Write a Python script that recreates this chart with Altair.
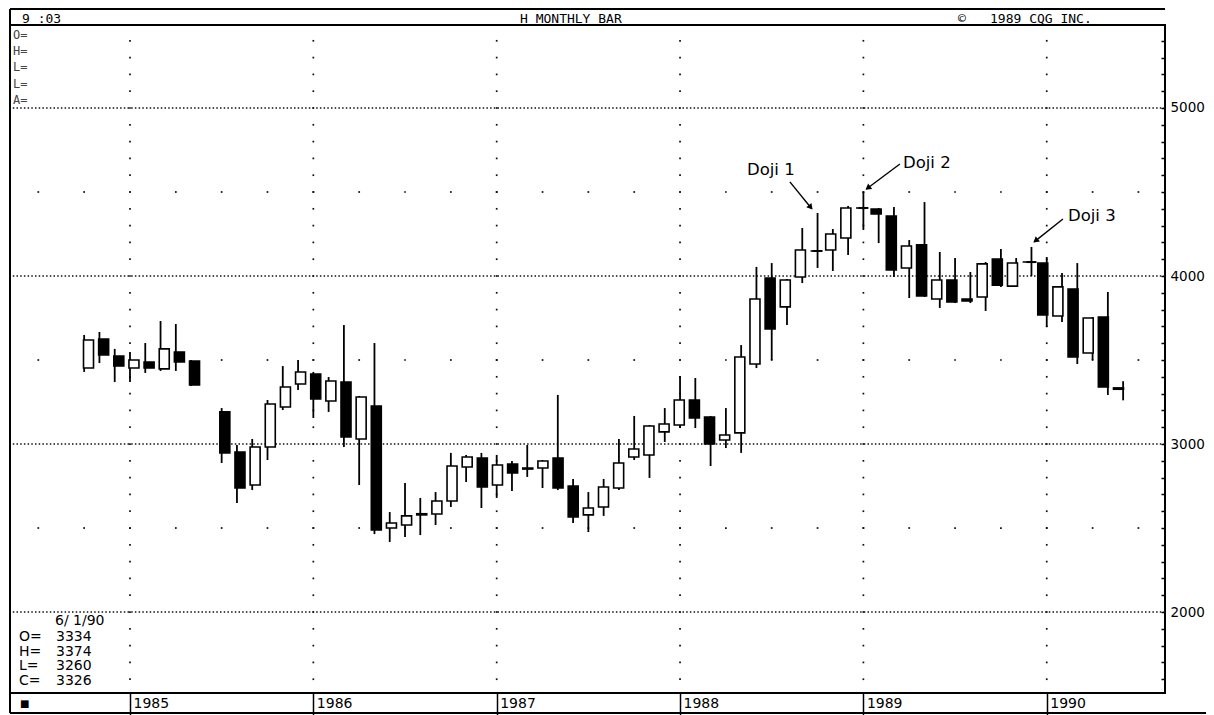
import altair as alt
import pandas as pd

# ---------------- data (monthly candles, month 0 = Jan 1985) ----------------
months = [-3, -2, -1, 0, 1, 2, 3, 4,
          6, 7, 8, 9, 10, 11,
          12, 13, 14, 15, 16, 17, 18, 19, 20, 21, 22, 23,
          24, 25, 26, 27, 28, 29, 30, 31, 32, 33, 34, 35,
          36, 37, 38, 39, 40, 41, 42, 43, 44, 45, 46, 47,
          48, 49, 50, 51, 52, 53, 54, 55, 56, 57, 58, 59,
          60, 61, 62, 63, 64, 65]
opens = [3452, 3625, 3524, 3452, 3488, 3447, 3548, 3494,
         3191, 2952, 2756, 2982, 3220, 3357,
         3417, 3256, 3369, 3030, 3226, 2500, 2518, 2585, 2583, 2661, 2863, 2917,
         2756, 2881, 2857, 2857, 2917, 2750, 2578, 2625, 2738, 2923, 2935, 3072,
         3113, 3262, 3161, 3024, 3066, 3476, 3988, 3816, 3994, 4149, 4155, 4226,
         4405, 4399, 4357, 4048, 4185, 3863, 3976, 3863, 3875, 4101, 3940, 4083,
         4077, 3762, 3923, 3542, 3756, 3334]
highs = [3649, 3667, 3566, 3548, 3601, 3732, 3714, 3500,
         3214, 2994, 3030, 3262, 3464, 3500,
         3429, 3399, 3708, 3286, 3601, 2595, 2768, 2679, 2714, 2947, 2935, 2947,
         2935, 2899, 2994, 2905, 3292, 2792, 2714, 2792, 3030, 3167, 3113, 3214,
         3405, 3393, 3167, 3214, 3589, 4054, 4077, 3982, 4286, 4375, 4280, 4417,
         4500, 4405, 4411, 4214, 4440, 4143, 4107, 4024, 4083, 4161, 4107, 4173,
         4113, 4018, 4077, 3756, 3905, 3374]
lows = [3429, 3482, 3369, 3369, 3423, 3435, 3435, 3345,
        2887, 2649, 2726, 2905, 3202, 3321,
        3155, 3191, 2982, 2756, 2464, 2417, 2447, 2458, 2518, 2625, 2774, 2619,
        2679, 2720, 2804, 2738, 2726, 2530, 2476, 2572, 2726, 2905, 2798, 3012,
        3095, 3095, 2869, 2976, 2947, 3452, 3500, 3708, 3958, 4048, 4030, 4125,
        4274, 4196, 3994, 3869, 3875, 3810, 3839, 3839, 3792, 3935, 3935, 4000,
        3697, 3726, 3476, 3500, 3292, 3260]
closes = [3619, 3530, 3464, 3500, 3452, 3566, 3488, 3351,
          2947, 2738, 2982, 3238, 3339, 3429,
          3268, 3375, 3042, 3280, 2488, 2530, 2572, 2578, 2661, 2869, 2923, 2744,
          2875, 2828, 2851, 2899, 2738, 2566, 2619, 2744, 2887, 2970, 3107, 3119,
          3262, 3155, 3000, 3054, 3518, 3863, 3685, 3976, 4155, 4149, 4250, 4405,
          4405, 4369, 4036, 4179, 3881, 3976, 3845, 3851, 4072, 3946, 4077, 4083,
          3768, 3935, 3518, 3750, 3339, 3326]

year_months = [0, 12, 24, 36, 48, 60]
year_labels = ["1985", "1986", "1987", "1988", "1989", "1990"]
major_levels = [2000, 3000, 4000, 5000]
minor_levels = [2500, 3500, 4500]
quarter_months = list(range(-6, 67, 3))
hundred_levels = list(range(1600, 5500, 100))

ann_labels = ["Doji 1", "Doji 2", "Doji 3"]
ann_text_m = [40.38, 50.59, 61.39]
ann_text_p = [4631, 4673, 4357]
arrow_m1 = [43.19, 50.39, 61.06]
arrow_p1 = [4560, 4667, 4339]
arrow_m2 = [44.62, 48.20, 59.18]
arrow_p2 = [4400, 4518, 4203]
head_m = [44.55, 48.29, 59.27]
head_p = [4409, 4524, 4210]
arrow_angle = [141, 233, 231]

last_date = "6/ 1/90"
last_names = ["O=", "H=", "L=", "C="]
last_values = ["3334", "3374", "3260", "3326"]
top_names = ["O=", "H=", "L=", "L=", "A="]

# ---------------- layout ----------------
W, H = 1155, 668
xs = alt.Scale(domain=[-7.853, 67.74], nice=False, zero=False)
ys = alt.Scale(domain=[1518, 5494], nice=False, zero=False)

candles = pd.DataFrame({"m": months, "O": opens, "H": highs, "L": lows, "C": closes})
doji = candles[candles["O"] == candles["C"]]

year_dots = pd.DataFrame([(m, p) for m in year_months for p in hundred_levels], columns=["m", "p"])
quarter_dots = pd.DataFrame([(m, p) for m in quarter_months for p in minor_levels], columns=["m", "p"])
majors = pd.DataFrame({"p": major_levels})
ann = pd.DataFrame({"t": ann_labels, "tm": ann_text_m, "tp": ann_text_p,
                    "m1": arrow_m1, "p1": arrow_p1, "m2": arrow_m2, "p2": arrow_p2,
                    "hm": head_m, "hp": head_p, "ang": arrow_angle})

X = lambda f: alt.X(f, scale=xs, axis=None)
Y = lambda f: alt.Y(f, scale=ys, axis=None)

label_expr = "[" + ",".join("'%s'" % s for s in year_labels) + "][datum.value/12]"

dots_year = alt.Chart(year_dots).mark_square(size=3, color="#111", opacity=1).encode(
    x=X("m:Q"), y=Y("p:Q"))
dots_q = alt.Chart(quarter_dots).mark_square(size=3, color="#111", opacity=1).encode(
    x=X("m:Q"), y=Y("p:Q"))
major_rules = alt.Chart(majors).mark_rule(color="#111", strokeDash=[1.5, 2.2], strokeWidth=1.5).encode(
    y=Y("p:Q"))

wicks = alt.Chart(candles).mark_rule(color="black", strokeWidth=1.8).encode(
    x=alt.X("m:Q", scale=xs, axis=alt.Axis(
        values=year_months, orient="bottom", tickSize=22, tickColor="black", tickWidth=1.5,
        domain=False, grid=False, labelExpr=label_expr, labelAlign="left", labelBaseline="top",
        labelPadding=-19, labelOffset=3, labelFont="DejaVu Sans", labelFontSize=14,
        labelColor="black", title=None, labelFlush=False, labelOverlap=False)),
    y=alt.Y("L:Q", scale=ys, axis=alt.Axis(
        values=hundred_levels, orient="right", offset=-4, tickSize=4, tickColor="black",
        tickWidth=1.5, domain=False, grid=False,
        labelExpr="datum.value % 1000 == 0 ? datum.value : ''",
        labelPadding=5, labelFont="DejaVu Sans", labelFontSize=13.5, labelColor="black",
        title=None, labelOverlap=False, labelFlush=False)),
    y2="H:Q")

bodies = alt.Chart(candles).mark_bar(size=10, stroke="black", strokeWidth=1.6).encode(
    x=X("m:Q"), y=Y("O:Q"), y2="C:Q",
    fill=alt.condition("datum.C >= datum.O", alt.value("white"), alt.value("black")))

doji_ticks = alt.Chart(doji).mark_rule(color="black", strokeWidth=2, xOffset=-5, x2Offset=5).encode(
    x=X("m:Q"), x2="m:Q", y=Y("O:Q"))

arrow_lines = alt.Chart(ann).mark_rule(color="black", strokeWidth=1.4).encode(
    x=X("m1:Q"), y=Y("p1:Q"), x2="m2:Q", y2="p2:Q")
arrow_heads = alt.Chart(ann).mark_point(shape="triangle-up", filled=True, size=45,
                                         color="black", opacity=1).encode(
    x=X("hm:Q"), y=Y("hp:Q"), angle=alt.Angle("ang:Q", scale=None))
ann_text = alt.Chart(ann).mark_text(align="left", baseline="middle", font="DejaVu Sans",
                                    fontSize=16.5, color="black").encode(
    x=X("tm:Q"), y=Y("tp:Q"), text="t:N")

# ---------------- frame, header and info panels (pixel positions) ----------------
frame_lines = pd.DataFrame({
    "x": [0, 0, 0],
    "x2": [W, 0, W + 60],
    "y": [-16, -16, H + 20],
    "y2": [-16, H + 20, H + 20],
})
frame = alt.Chart(frame_lines).mark_rule(color="black", strokeWidth=2).encode(
    x=alt.X("x:Q", scale=None), x2="x2:Q", y=alt.Y("y:Q", scale=None), y2="y2:Q")

header = pd.DataFrame({"x": [12, 510, 948, 980], "y": [-6, -6, -6, -6],
                       "t": ["9 :03", "H MONTHLY BAR", "©", "1989  CQG  INC."]})
header_text = alt.Chart(header).mark_text(align="left", baseline="middle",
                                          font="DejaVu Sans Mono",
                                          fontSize=13, color="black").encode(
    x=alt.X("x:Q", scale=None), y=alt.Y("y:Q", scale=None), text="t:N")

top_left = pd.DataFrame({"x": [3] * 5, "y": [10, 26, 42, 59, 75], "t": top_names})
top_left_text = alt.Chart(top_left).mark_text(align="left", baseline="middle",
                                              font="DejaVu Sans Mono", fontSize=12,
                                              color="#444").encode(
    x=alt.X("x:Q", scale=None), y=alt.Y("y:Q", scale=None), text="t:N")

info = pd.DataFrame({
    "x": [45] + [9] * 4 + [46] * 4,
    "y": [596] + [612, 626.5, 641, 655.5] + [612, 626.5, 641, 655.5],
    "t": [last_date] + last_names + last_values,
})
info_text = alt.Chart(info).mark_text(align="left", baseline="middle", font="DejaVu Sans",
                                      fontSize=14, color="black").encode(
    x=alt.X("x:Q", scale=None), y=alt.Y("y:Q", scale=None), text="t:N")

marker = alt.Chart(pd.DataFrame({"x": [10], "y": [679], "t": ["■"]})).mark_text(
    align="left", baseline="middle", fontSize=10, color="black", font="DejaVu Sans").encode(
    x=alt.X("x:Q", scale=None), y=alt.Y("y:Q", scale=None), text="t:N")

chart = alt.layer(
    dots_year, dots_q, major_rules, wicks, bodies, doji_ticks,
    arrow_lines, arrow_heads, ann_text,
    frame, header_text, top_left_text, info_text, marker,
).resolve_scale(
    x="independent", y="independent"
).resolve_axis(
    x="independent", y="independent"
).properties(
    width=W, height=H,
    autosize=alt.AutoSizeParams(type="none"),
    padding={"left": 2, "top": 17, "right": 41, "bottom": 22},
    background="white",
).configure_view(stroke="black", strokeWidth=2)

chart.save("out.html", embed_options={"renderer": "svg", "actions": False})
